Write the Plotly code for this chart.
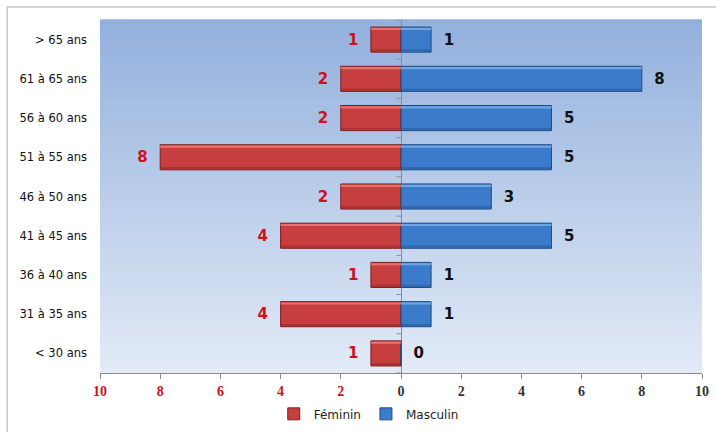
import plotly.graph_objects as go

# Age groups (bottom to top) and head counts per sex
categories = ["< 30 ans", "31 à 35 ans", "36 à 40 ans", "41 à 45 ans", "46 à 50 ans",
              "51 à 55 ans", "56 à 60 ans", "61 à 65 ans", "> 65 ans"]
feminin = [1, 4, 1, 4, 2, 8, 2, 2, 1]
masculin = [0, 1, 1, 5, 3, 5, 5, 8, 1]

tick_values = [-10, -8, -6, -4, -2, 0, 2, 4, 6, 8, 10]
tick_labels = ["10", "8", "6", "4", "2", "0", "2", "4", "6", "8", "10"]

RED = "#c63f3e"
RED_EDGE = "#7d1d1f"
RED_LIGHT = "#ec7a78"
RED_DARK = "#9a2627"
BLUE = "#3b7bc9"
BLUE_EDGE = "#1f4c85"
BLUE_LIGHT = "#79aee8"
BLUE_DARK = "#28599a"
LABEL_RED = "#d0101c"
NBSP = "\u00a0"
BARGAP = 0.36

fig = go.Figure()

fig.add_trace(go.Bar(
    name="Féminin",
    y=categories,
    x=[-v for v in feminin],
    orientation="h",
    marker=dict(color=RED, line=dict(color=RED_EDGE, width=1)),
    text=["<b>%d</b>%s" % (v, NBSP * 2) for v in feminin],
    textposition="outside",
    textfont=dict(family="DejaVu Sans", size=15, color=LABEL_RED),
    cliponaxis=False,
))
fig.add_trace(go.Bar(
    name="Masculin",
    y=categories,
    x=masculin,
    orientation="h",
    marker=dict(color=BLUE, line=dict(color=BLUE_EDGE, width=1)),
    text=["%s<b>%d</b>" % (NBSP * 2, v) for v in masculin],
    textposition="outside",
    textfont=dict(family="DejaVu Sans", size=15, color="#111111"),
    cliponaxis=False,
))

# Vertical gradient behind the plot area, built from thin strips
top = (0x93, 0xb0, 0xdd)
bottom = (0xe2, 0xea, 0xf6)
n = 80
shapes = []
for i in range(n):
    t = i / (n - 1)
    c = tuple(round(top[k] + (bottom[k] - top[k]) * t) for k in range(3))
    shapes.append(dict(
        type="rect", xref="x domain", yref="y domain",
        x0=0, x1=1, y0=1 - (i + 1) / n, y1=1 - i / n + 0.002,
        fillcolor="rgb(%d,%d,%d)" % c, line=dict(width=0), layer="below",
    ))

# Bevel shading on each bar: light rim along the top, darker band along the bottom
half = (1 - BARGAP) / 2
for idx in range(len(categories)):
    for value, light, dark in ((-feminin[idx], RED_LIGHT, RED_DARK),
                               (masculin[idx], BLUE_LIGHT, BLUE_DARK)):
        if value == 0:
            continue
        shapes.append(dict(
            type="rect", xref="x", yref="y", layer="above",
            x0=0, x1=value, y0=idx + half - 0.075, y1=idx + half - 0.02,
            fillcolor=light, opacity=0.85, line=dict(width=0),
        ))
        shapes.append(dict(
            type="rect", xref="x", yref="y", layer="above",
            x0=0, x1=value, y0=idx - half + 0.02, y1=idx - half + 0.07,
            fillcolor=dark, opacity=0.6, line=dict(width=0),
        ))

# Small category ticks along the zero line
for idx in range(len(categories) + 1):
    shapes.append(dict(
        type="line", xref="x", yref="y", layer="above",
        x0=-0.15, x1=0, y0=idx - 0.5, y1=idx - 0.5,
        line=dict(color="#8c8c8c", width=1),
    ))

# Chart frame
shapes.append(dict(
    type="rect", xref="paper", yref="paper",
    x0=-0.154, x1=1.05, y0=-0.25, y1=1.037,
    line=dict(color="#c8c8c8", width=1.5), fillcolor="rgba(0,0,0,0)", layer="below",
))

tick_text = [
    ("<span style='color:%s'>%s</span>" % (LABEL_RED, t)) if v < 0 else t
    for v, t in zip(tick_values, tick_labels)
]

fig.update_layout(
    width=716, height=432,
    margin=dict(l=100, r=14, t=20, b=59),
    paper_bgcolor="white",
    plot_bgcolor="rgba(0,0,0,0)",
    barmode="relative",
    bargap=BARGAP,
    shapes=shapes,
    showlegend=True,
    legend=dict(
        orientation="h", xref="container", yref="container",
        x=0.515, xanchor="center", y=0.042, yanchor="middle",
        font=dict(family="DejaVu Sans", size=12, color="#222222"),
        itemwidth=30, traceorder="normal", tracegroupgap=0,
    ),
    xaxis=dict(
        range=[-10, 10], automargin=False,
        tickmode="array", tickvals=tick_values, ticktext=tick_text,
        tickfont=dict(family="Liberation Serif", size=14, color="#333333", weight="bold"),
        showgrid=False,
        zeroline=True, zerolinecolor="#8c8c8c", zerolinewidth=1,
        showline=True, linecolor="#8c8c8c", linewidth=1,
        ticks="outside", ticklen=5, tickcolor="#8c8c8c",
        fixedrange=True,
    ),
    yaxis=dict(
        categoryorder="array", categoryarray=categories, automargin=False,
        range=[-0.5, len(categories) - 0.5],
        tickfont=dict(family="DejaVu Sans", size=11.5, color="#111111"),
        showgrid=False, showline=False, ticks="",
        ticklabelstandoff=12,
        fixedrange=True,
    ),
)

fig.write_html("out.html")
